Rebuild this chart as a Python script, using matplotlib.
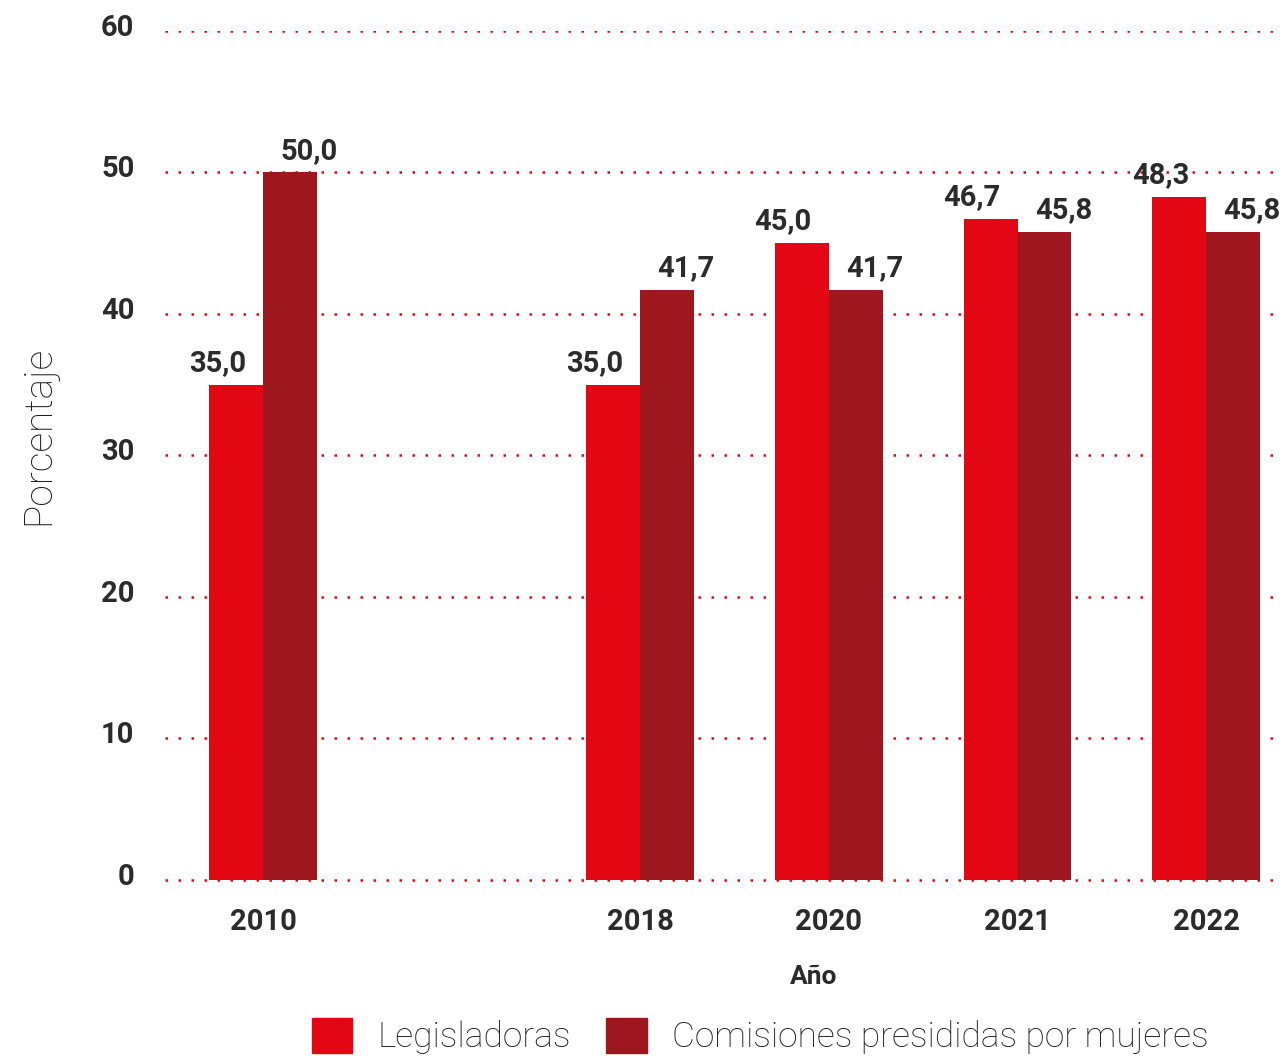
import numpy as np
import matplotlib.pyplot as plt
import matplotlib.transforms as mtransforms
from matplotlib.patches import Patch

years = ['2010', '2018', '2020', '2021', '2022']
pos = [0, 2, 3, 4, 5]   # hueco entre 2010 y 2018
legisladoras = [35.0, 35.0, 45.0, 46.7, 48.3]
comisiones = [50.0, 41.7, 41.7, 45.8, 45.8]

red = '#E30613'
dark = '#9E161E'
txt = '#2b2b2b'

plt.rcParams['font.family'] = ['Roboto', 'DejaVu Sans']

fig = plt.figure(figsize=(12.83, 10.61), dpi=100)
ax = fig.add_axes([165/1283, 1 - 882/1061, 1110/1283, 851/1061])

w = 0.286
x = np.array(pos, dtype=float)
ax.bar(x - w, legisladoras, w, align='edge', color=red, zorder=2)
ax.bar(x, comisiones, w, align='edge', color=dark, zorder=2)

for xi, a, b in zip(x, legisladoras, comisiones):
    ax.text(xi - w/2 - 0.1, a + 0.55, f'{a:.1f}'.replace('.', ','), ha='center', va='bottom',
            fontsize=21, fontweight='bold', color=txt)
    ax.text(xi + w/2 + 0.1, b + 0.55, f'{b:.1f}'.replace('.', ','), ha='center', va='bottom',
            fontsize=21, fontweight='bold', color=txt)

ax.set_xlim(-0.52, 5.365)
ax.set_ylim(-0.15, 60)
ax.set_yticks(range(0, 61, 10))
ax.set_xticks(x)
ax.set_xticklabels(years)
ax.tick_params(length=0, labelsize=21, labelcolor=txt)
ax.tick_params(axis='x', pad=19)
ax.tick_params(axis='y', pad=22)
for lab in ax.get_xticklabels() + ax.get_yticklabels():
    lab.set_fontweight('bold')
# y labels sit a little above their gridline
up = mtransforms.ScaledTranslation(0, 6/100, fig.dpi_scale_trans)
for lab in ax.get_yticklabels():
    lab.set_transform(lab.get_transform() + up)

ax.yaxis.grid(True, color=red, linestyle=(0, (1, 4.2)), linewidth=1.8)
ax.set_axisbelow(True)
for s in ax.spines.values():
    s.set_visible(False)

ax.set_ylabel('Porcentaje', fontsize=28, color='#1e1e1e', fontweight='light')
ax.yaxis.set_label_coords(-0.097, 0.525)
ax.set_xlabel('Año', fontsize=19, fontweight='bold', color=txt)
ax.xaxis.set_label_coords(0.584, -0.097)

handles = [Patch(color=red, label='Legisladoras'),
           Patch(color=dark, label='Comisiones presididas por mujeres')]
leg = fig.legend(handles=handles, loc='center', bbox_to_anchor=(760/1283, 1 - 1036/1061),
                 ncol=2, frameon=False, handlelength=1.15, handleheight=1.15,
                 handletextpad=0.7, columnspacing=1.0, labelcolor='#1e1e1e',
                 prop={'size': 25.5, 'weight': 'light'})

fig.savefig('out.png', dpi=100)
